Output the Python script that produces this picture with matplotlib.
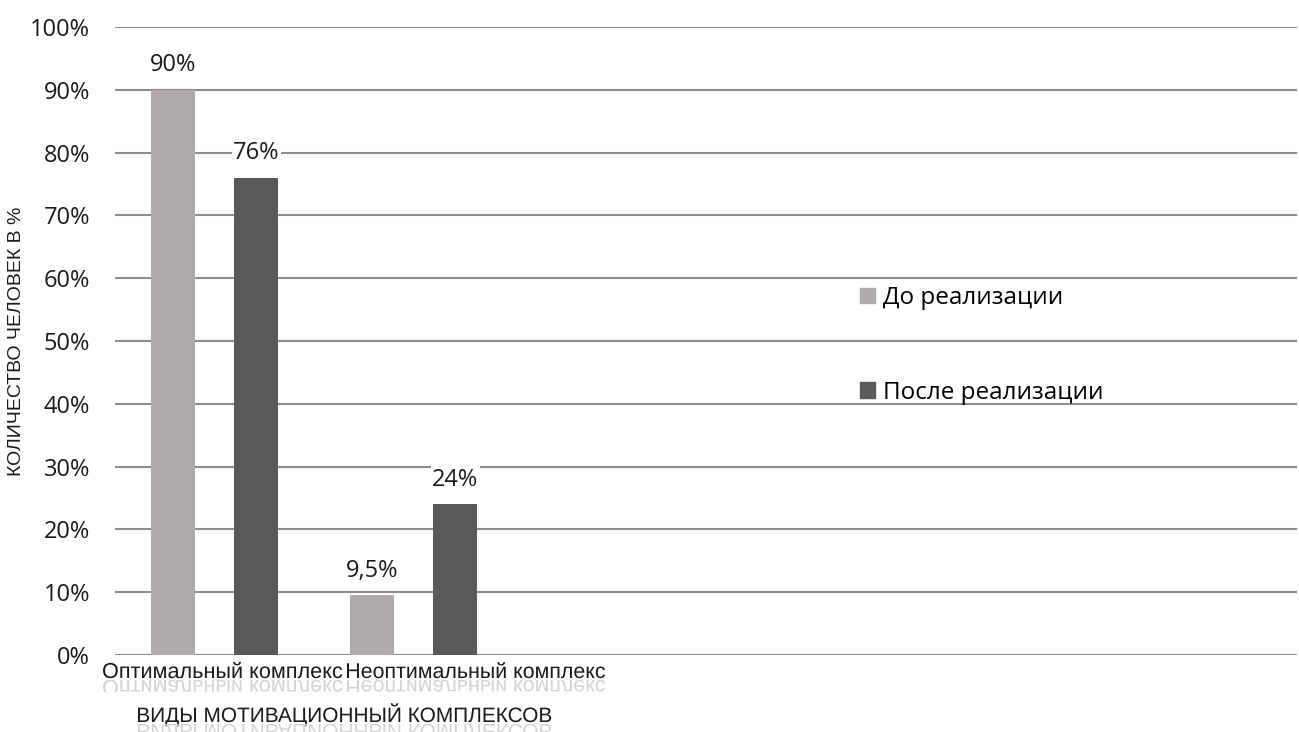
import matplotlib.pyplot as plt
import matplotlib.transforms as mtransforms
from matplotlib.patches import PathPatch, Rectangle
from matplotlib.textpath import TextPath
from matplotlib.font_manager import FontProperties

# Данные
categories = ['Оптимальный комплекс', 'Неоптимальный комплекс']
before = [90, 9.5]
after = [76, 24]
before_labels = ['90%', '9,5%']
after_labels = ['76%', '24%']
series_names = ['До реализации', 'После реализации']
yticks = list(range(0, 101, 10))

c_before = '#aeaaaa'
c_after = '#595959'
grid_c = '#8c8c8c'

fig = plt.figure(figsize=(12.99, 7.32), dpi=100)
ax = fig.add_axes([0.0885, 0.1052, 0.91, 0.8578])

n_slots = 6
pos = list(range(len(categories)))
w = 0.22
off = 0.21

ax.bar([p - off for p in pos], before, width=w, color=c_before, zorder=3)
ax.bar([p + off for p in pos], after, width=w, color=c_after, zorder=3)

lab_font = dict(family='Open Sans', fontsize=17, color='#1a1a1a')
for p, v, s in zip(pos, before, before_labels):
    ax.annotate(s, (p - off, v), xytext=(0, 9), textcoords='offset points',
                ha='center', va='bottom', zorder=4,
                bbox=dict(facecolor='white', edgecolor='none', pad=1), **lab_font)
for p, v, s in zip(pos, after, after_labels):
    ax.annotate(s, (p + off, v), xytext=(0, 9), textcoords='offset points',
                ha='center', va='bottom', zorder=4,
                bbox=dict(facecolor='white', edgecolor='none', pad=1), **lab_font)

ax.set_xlim(-0.5, n_slots - 0.56)
ax.set_ylim(0, 100)
ax.set_yticks(yticks)
ax.set_yticklabels([f'{t}%' for t in yticks], **lab_font)
ax.tick_params(axis='y', length=0, pad=18)
ax.set_xticks([])
ax.yaxis.grid(True, color=grid_c, linewidth=1.5, zorder=0)
for sp in ax.spines.values():
    sp.set_visible(False)
ax.axhline(0, color=grid_c, linewidth=1.5, zorder=2)

ax.set_ylabel('КОЛИЧЕСТВО ЧЕЛОВЕК В %', family='Liberation Sans', fontsize=14,
              color='#1a1a1a')
ax.yaxis.set_label_coords(-0.076, 0.5)

# Легенда
handles = [Rectangle((0, 0), 1, 1, color=c) for c in (c_before, c_after)]
fig.legend(handles, series_names, loc='center left', bbox_to_anchor=(0.662, 0.528),
           frameon=False, handlelength=0.6, handleheight=0.6, handletextpad=0.35,
           labelspacing=2.9, borderpad=0, borderaxespad=0,
           prop=FontProperties(family='Open Sans', size=17.5))


def text_with_reflection(x_px, y_px, s, size_pt, ha='left'):
    """Текст с зеркальным отражением снизу (координаты в пикселях, y сверху)."""
    prop = FontProperties(family='Liberation Sans')
    size_px = size_pt * fig.dpi / 72
    tp = TextPath((0, 0), s, size=size_px, prop=prop)
    bb = tp.get_extents()
    x0 = x_px - (bb.width / 2 if ha == 'center' else 0) - bb.x0
    base = fig.bbox.height - y_px
    main = mtransforms.Affine2D().translate(x0, base)
    fig.patches.append(PathPatch(tp, transform=main, facecolor='#1a1a1a',
                                 edgecolor='none', figure=fig))
    refl = mtransforms.Affine2D().scale(1, -1).translate(x0, base - 2)
    rp = PathPatch(tp, transform=refl, facecolor='#d4d4d4', edgecolor='none', figure=fig)
    clip = Rectangle((0, base - 2 - size_px * 0.55), fig.bbox.width, size_px * 0.55,
                     transform=mtransforms.IdentityTransform(), figure=fig)
    rp.set_clip_path(clip)
    fig.patches.append(rp)


text_with_reflection(103, 678, categories[0], 15.6)
text_with_reflection(347, 678, categories[1], 15.4)
text_with_reflection(138, 722, 'ВИДЫ МОТИВАЦИОННЫЙ КОМПЛЕКСОВ', 15)

fig.savefig('out.png', dpi=100)
